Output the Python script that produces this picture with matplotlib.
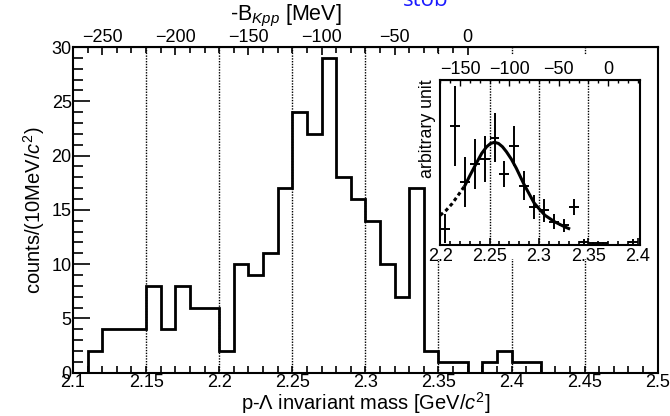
import numpy as np
import matplotlib
matplotlib.use('Agg')
import matplotlib.pyplot as plt
from matplotlib.patches import Rectangle
from matplotlib.ticker import MultipleLocator, FixedLocator

plt.rcParams['font.family'] = ['Liberation Sans', 'DejaVu Sans']
plt.rcParams['mathtext.fontset'] = 'custom'
plt.rcParams['mathtext.rm'] = 'Liberation Sans'
plt.rcParams['mathtext.it'] = 'Liberation Sans:italic'

# main histogram: p-Lambda invariant mass, 10 MeV bins from 2.10 to 2.50 GeV
bin_edges = np.round(np.arange(2.10, 2.505, 0.01), 3)
counts = [0, 2, 4, 4, 4, 8, 4, 8, 6, 6,
          2, 10, 9, 11, 17, 24, 22, 29, 18, 16,
          14, 10, 7, 17, 2, 1, 1, 0, 1, 2,
          1, 1, 0, 0, 0, 0, 0, 0, 0, 0]
threshold = 2.370  # K- p p mass in GeV

# inset: arbitrary units with error bars
inset_x = [2.205, 2.215, 2.225, 2.235, 2.245, 2.255, 2.265, 2.275, 2.285,
           2.295, 2.305, 2.315, 2.325, 2.335, 2.345, 2.355, 2.365, 2.395]
inset_y = [0.10, 0.72, 0.38, 0.49, 0.52, 0.65, 0.43, 0.60, 0.36,
           0.23, 0.21, 0.14, 0.12, 0.23, 0.02, 0.01, 0.01, 0.02]
inset_err = [0.09, 0.24, 0.15, 0.15, 0.14, 0.15, 0.08, 0.12, 0.09,
             0.07, 0.07, 0.045, 0.04, 0.05, 0.015, 0.01, 0.01, 0.015]

# fit curve
dash_x = [2.200, 2.206, 2.212, 2.218, 2.225]
dash_y = [0.18, 0.21, 0.25, 0.30, 0.36]
fit_x = [2.225, 2.230, 2.237, 2.242, 2.247, 2.251, 2.255, 2.259, 2.263, 2.267,
         2.272, 2.277, 2.281, 2.285, 2.290, 2.295, 2.300, 2.306, 2.311, 2.316,
         2.321, 2.326, 2.330]
fit_y = [0.36, 0.42, 0.50, 0.555, 0.595, 0.615, 0.622, 0.615, 0.595, 0.565,
         0.52, 0.465, 0.415, 0.365, 0.31, 0.255, 0.22, 0.18, 0.16, 0.14,
         0.125, 0.11, 0.10]

FS = 13


def to_b(m):
    return (np.asarray(m) - threshold) * 1000.0


def to_m(b):
    return np.asarray(b) / 1000.0 + threshold


def mass_fmt(v, p):
    return ('%.2f' % v).rstrip('0').rstrip('.')


def style_axis(ax, lw=1.5):
    for s in ax.spines.values():
        s.set_linewidth(lw)
    ax.tick_params(which='both', direction='in', width=1.2, labelsize=FS, pad=2)
    ax.tick_params(which='major', length=9)
    ax.tick_params(which='minor', length=5)


fig = plt.figure(figsize=(6.7, 4.16), dpi=100)
ax = fig.add_axes([0.109, 0.104, 0.8726, 0.783])

for xv in [2.15, 2.2, 2.25, 2.3, 2.35, 2.4, 2.45]:
    ax.axvline(xv, color='black', lw=1.0, linestyle=(0, (1, 1)), zorder=1)

ax.stairs(counts, bin_edges, color='black', lw=2.0, baseline=0, zorder=3)
ax.set_xlim(2.1, 2.5)
ax.set_ylim(0, 30)
style_axis(ax)
ax.xaxis.set_major_locator(MultipleLocator(0.05))
ax.xaxis.set_minor_locator(MultipleLocator(0.01))
ax.yaxis.set_major_locator(MultipleLocator(5))
ax.yaxis.set_minor_locator(MultipleLocator(1))
ax.xaxis.set_major_formatter(plt.FuncFormatter(mass_fmt))
ax.tick_params(axis='x', which='major', length=5, pad=1)
ax.tick_params(axis='y', which='major', length=12, pad=1)
ax.tick_params(axis='y', which='minor', length=7)
ax.set_xlabel(r'p-$\Lambda$ invariant mass [GeV/$c^2$]', fontsize=14.5, labelpad=-1)
ax.set_ylabel(r'counts/(10MeV/$c^2$)', fontsize=14.5, labelpad=3)

top = ax.secondary_xaxis('top', functions=(to_b, to_m))
top.xaxis.set_major_locator(FixedLocator([-250, -200, -150, -100, -50, 0]))
top.xaxis.set_minor_locator(FixedLocator(list(range(-270, 1, 10))))
top.tick_params(which='both', direction='in', width=1.2, labelsize=FS, pad=1)
top.tick_params(which='major', length=6)
top.tick_params(which='minor', length=4)
fig.text(0.427, 0.962, r'-B$_{Kpp}$ [MeV]', fontsize=15.5, ha='center', va='center')

# white patch behind the inset, hides grid lines
ax.add_patch(Rectangle((0.607, 0.35), 0.38, 0.625, transform=ax.transAxes,
                       facecolor='white', edgecolor='none', zorder=2))

ins = fig.add_axes([0.657, 0.411, 0.298, 0.397])
for xv in [2.25, 2.3, 2.35]:
    ins.axvline(xv, color='black', lw=1.0, linestyle=(0, (1, 1)), zorder=1)
ins.errorbar(inset_x, inset_y, yerr=inset_err, xerr=0.005, fmt='none',
             ecolor='black', elinewidth=1.4, capsize=0, zorder=3)
ins.plot(dash_x, dash_y, color='black', lw=2.2, linestyle=(0, (1.2, 1)), zorder=4)
ins.plot(fit_x, fit_y, color='black', lw=2.2, zorder=4)
ins.set_xlim(2.2, 2.402)
ins.set_ylim(0, 1.0)
style_axis(ins, lw=1.5)
ins.xaxis.set_major_locator(MultipleLocator(0.05))
ins.xaxis.set_minor_locator(MultipleLocator(0.01))
ins.xaxis.set_major_formatter(plt.FuncFormatter(mass_fmt))
ins.tick_params(axis='x', which='major', length=5)
ins.tick_params(axis='x', which='minor', length=3)
ins.set_yticks([])
ins.set_ylabel('arbitrary unit', fontsize=12.8, labelpad=3, loc='top')

itop = ins.secondary_xaxis('top', functions=(to_b, to_m))
itop.xaxis.set_major_locator(FixedLocator([-150, -100, -50, 0]))
itop.xaxis.set_minor_locator(FixedLocator(list(range(-170, 31, 10))))
itop.tick_params(which='both', direction='in', width=1.0, labelsize=FS, pad=1)
itop.tick_params(which='major', length=4)
itop.tick_params(which='minor', length=2)

# partially visible annotation at the top edge, as in the source
fig.text(0.636, 0.986, 'stob', color='#1a1aff', fontsize=16,
         family=['Open Sans', 'DejaVu Sans'], ha='center', va='baseline')

fig.savefig('out.png', dpi=100)
